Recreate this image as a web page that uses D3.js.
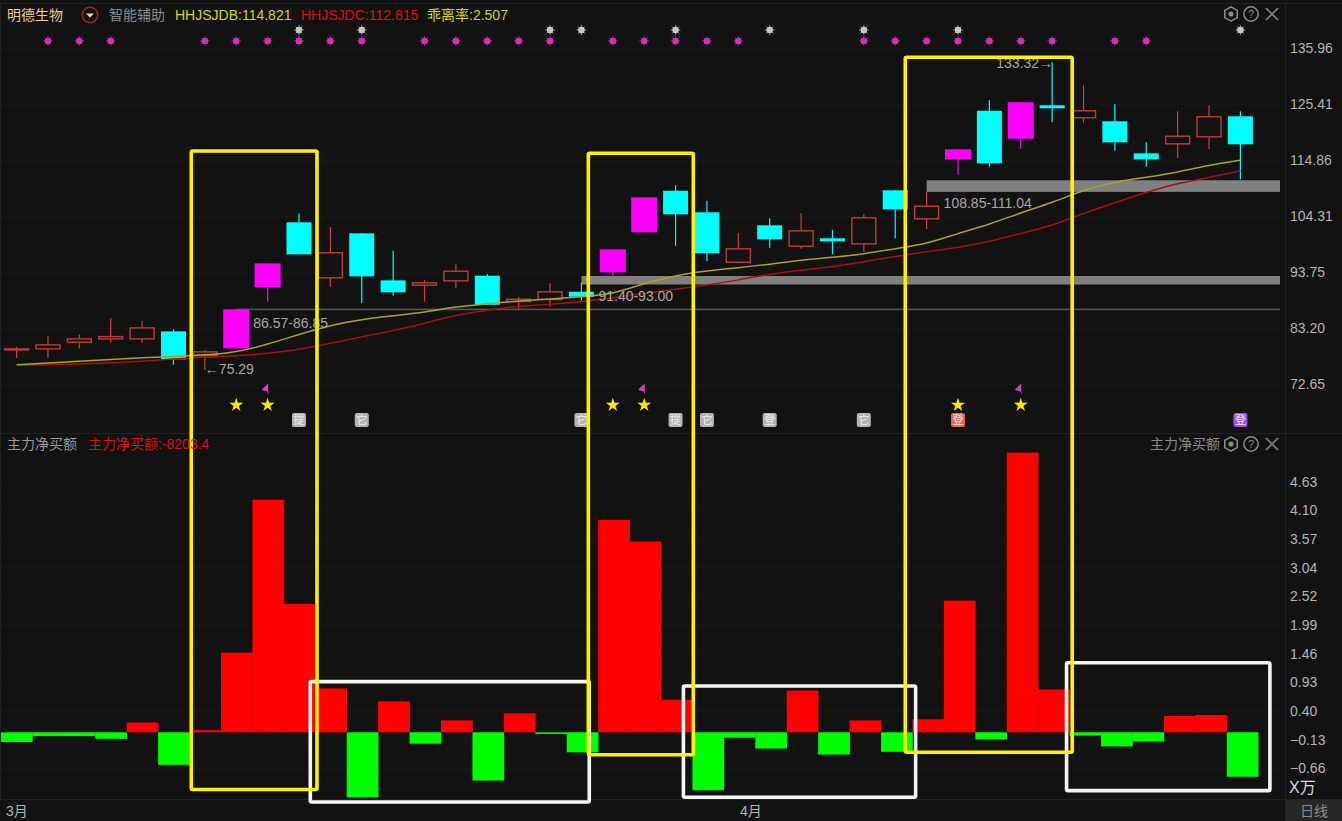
<!DOCTYPE html>
<html><head><meta charset="utf-8">
<script src="https://cdn.jsdelivr.net/npm/d3@7"></script>
<style>
html,body{margin:0;padding:0;background:#121212;overflow:hidden}
svg{display:block}
text{font-family:"Liberation Sans","Noto Sans CJK SC",sans-serif;font-size:14px}
</style></head><body>
<svg id="c" width="1342" height="821"></svg>
<script>
const dayIndex = d3.range(40);
const bodyHigh = [79.36,80.12,81.25,81.68,83.32,82.57,78.80,86.72,95.38,103.11,97.46,101.04,92.18,91.80,93.99,93.05,88.71,90.11,90.03,98.02,107.82,109.07,105.00,98.21,102.55,101.60,100.10,104.05,109.14,106.24,116.87,124.14,125.73,125.16,124.22,122.15,116.11,119.43,123.09,123.09];
const bodyLow = [79.18,79.18,80.42,81.06,81.06,77.29,77.91,79.36,90.86,97.08,92.56,92.93,89.92,91.16,91.99,87.58,88.09,88.47,89.09,93.69,101.23,104.62,97.27,95.50,99.91,98.51,99.53,98.96,105.56,103.68,114.98,114.23,118.87,124.60,122.71,118.19,114.98,117.81,119.13,117.81];
const highs = [79.67,81.68,82.00,85.02,84.51,82.95,79.04,86.72,95.38,104.81,102.17,101.04,97.76,92.24,95.20,93.37,89.09,91.62,91.73,98.02,107.82,110.08,107.18,101.15,103.87,104.81,101.66,104.62,109.14,108.88,116.87,126.10,125.73,133.32,128.93,125.35,118.19,124.03,125.16,124.03];
const lows = [77.54,77.54,79.36,80.42,80.42,76.27,75.29,79.36,88.15,97.08,90.97,87.85,89.28,88.15,90.67,87.58,86.83,87.21,88.34,92.99,101.23,98.70,95.82,95.50,98.32,98.14,97.08,97.57,100.10,101.79,112.08,113.59,116.98,121.96,121.88,116.61,113.59,115.17,116.87,111.22];
const kinds = ["u","u","u","u","u","d","u","m","m","d","u","d","d","u","u","d","u","u","d","m","m","d","d","u","d","u","d","u","d","u","m","d","m","d","u","d","d","u","u","d"];
const lineDB = [76.27,76.60,76.92,77.29,77.59,77.86,78.10,78.61,80.12,82.00,83.76,84.83,85.51,86.15,87.24,87.77,88.34,88.66,89.09,89.60,91.62,93.12,93.99,94.56,95.20,96.01,96.52,97.14,98.17,99.02,101.04,102.73,104.92,106.81,109.20,110.76,111.59,112.53,113.91,114.82];
const lineDC = [76.22,76.27,76.41,76.65,76.92,77.35,77.73,77.91,78.42,79.10,80.31,81.55,82.68,84.08,85.64,86.58,87.34,87.66,88.15,88.90,89.73,90.48,91.29,92.24,93.37,94.12,94.74,95.69,96.70,97.57,98.40,99.46,101.04,102.47,104.81,106.81,108.77,110.46,111.59,112.82];
const netBuy = [-0.18,-0.07,-0.07,-0.12,0.18,-0.60,0.04,1.47,4.29,2.37,0.81,-1.20,0.57,-0.21,0.22,-0.89,0.35,-0.03,-0.37,3.92,3.52,0.60,-1.07,-0.10,-0.30,0.77,-0.41,0.22,-0.36,0.24,2.43,-0.13,5.16,0.79,-0.06,-0.26,-0.17,0.30,0.32,-0.82];
const priceTicks = [135.96,125.41,114.86,104.31,93.75,83.20,72.65];
const netTicks = [4.63,4.10,3.57,3.04,2.52,1.99,1.46,0.93,0.40,-0.13,-0.66];
const pinkDots = [1,2,3,6,7,8,9,10,11,13,14,15,16,17,19,20,21,22,23,27,28,29,30,31,32,33,35,36];
const grayDots = [9,11,17,18,21,24,27,30,39];
const stars = [7,8,19,20,30,32];
const flags = [8,20,32];
const badgeDays = [9,11,18,21,22,24,27,30,39];
const badgeText = ["提","它","它","提","它","登","它","登","登"];
const badgeFill = ["#b4b4b4","#b4b4b4","#b4b4b4","#b4b4b4","#b4b4b4","#b4b4b4","#b4b4b4","#f06060","#a050e0"];
const zones = [[7,86.57,86.85],[18,91.40,93.00],[29,108.85,111.04]];
const zoneLabels = ["86.57-86.85","91.40-93.00","108.85-111.04"];
const yellowBoxes = [[5.567,9.573,116.55,-1.056],[18.22,21.565,116.12,-0.413],[28.32,33.64,134.21,-0.369]];
const whiteBoxes = [[9.36,18.25,0.935,-1.285],[21.25,28.65,0.853,-1.198],[33.46,39.94,1.283,-1.076]];
const pinkLevel = 137.28, grayLevel = 139.35, starLevel = 68.68, badgeLevel = 65.85, flagLevel = 72.65;

const svg = d3.select("#c");
const W=1342,H=821,plotR=1280,axisX=1285;
const x = d3.scaleBand().domain(dayIndex).range([0.9,0.9+31.38*40]);
const xN = d3.scaleBand().domain(dayIndex).range([1,1+31.43*40]);
const cx = i => x(0)+x.bandwidth()/2+i*x.bandwidth();
const yP = d3.scaleLinear().domain([135.96,72.65]).range([48,384]);
const yN = d3.scaleLinear().domain([0,4.63]).range([732.3,481.3]);
const bg="#121212";

svg.append("rect").attr("width",W).attr("height",H).attr("fill",bg);
// frame
const frame=svg.append("g").attr("stroke","#222").attr("stroke-width",1);
[[0,3.5,W,3.5],[0,433.5,W,433.5],[0,799.5,W,799.5],[axisX+.5,3,axisX+.5,821],[.5,3,.5,800]].forEach(l=>frame.append("line").attr("x1",l[0]).attr("y1",l[1]).attr("x2",l[2]).attr("y2",l[3]));
// grid
const grid=svg.append("g").attr("stroke","#262626").attr("stroke-dasharray","1 3");
priceTicks.forEach(t=>grid.append("line").attr("x1",2).attr("x2",plotR).attr("y1",Math.round(yP(t))+.5).attr("y2",Math.round(yP(t))+.5));
netTicks.forEach(t=>grid.append("line").attr("x1",2).attr("x2",plotR).attr("y1",Math.round(yN(t))+.5).attr("y2",Math.round(yN(t))+.5));

// axes
const axP=svg.append("g").attr("transform",`translate(${axisX},0)`).call(d3.axisRight(yP).tickValues(priceTicks).tickFormat(d3.format(".2f")).tickSize(0).tickPadding(5));
const axN=svg.append("g").attr("transform",`translate(${axisX},0.4)`).call(d3.axisRight(yN).tickValues(netTicks).tickFormat(d3.format(".2f")).tickSize(0).tickPadding(5));
[axP,axN].forEach(a=>{a.select(".domain").remove();a.selectAll("text").attr("fill","#b4b4b4").style("font-size","14px").style("font-family",'"Liberation Sans",sans-serif');});

// zones
svg.append("g").selectAll("rect").data(zones).join("rect")
 .attr("x",d=>cx(d[0])).attr("width",d=>plotR-cx(d[0]))
 .attr("y",d=>yP(d[2])).attr("height",d=>Math.max(1.6,yP(d[1])-yP(d[2])))
 .attr("fill",(d,i)=>i==0?"#555":"#808080");

// candles
const colors={u:"#c23b3b",d:"#00ffff",m:"#ff00ff"};
const cg=svg.append("g");
dayIndex.forEach(i=>{
  const k=kinds[i],c=cx(i),hw=k==="m"?13:12.5;
  const g=cg.append("g");
  const col=k==="u"?"#d04040":colors[k];
  g.append("line").attr("x1",c).attr("x2",c).attr("y1",yP(highs[i])).attr("y2",yP(lows[i])).attr("stroke",col).attr("stroke-width",1.2);
  const t=yP(bodyHigh[i]),b=yP(bodyLow[i]);
  if(k==="u") g.append("rect").attr("x",c-hw+.5).attr("width",2*hw-1).attr("y",t+.5).attr("height",Math.max(b-t-1,1)).attr("fill",bg).attr("stroke",colors.u).attr("stroke-width",1.4);
  else g.append("rect").attr("x",c-hw).attr("width",2*hw).attr("y",t).attr("height",b-t).attr("fill",colors[k]);
});

// moving lines
const ln=d3.line().x((d,i)=>cx(i)).y(d=>yP(d)).curve(d3.curveBasis);
svg.append("path").attr("d",ln(lineDC)).attr("fill","none").attr("stroke","#a80f0f").attr("stroke-width",1.5);
svg.append("path").attr("d",ln(lineDB)).attr("fill","none").attr("stroke","#aaa420").attr("stroke-width",1.5);

// zone labels
const labelStyle=s=>s.attr("fill","#a8a8a8").style("font-size","14px");
zones.forEach((z,n)=>{
  svg.append("text").attr("x",cx(z[0])+17).attr("y",yP(z[1])+[18,17,16.5][n]).text(zoneLabels[n]).call(labelStyle);
});
svg.append("text").attr("x",cx(6)).attr("y",yP(75.29)+4.5).text("←75.29").call(labelStyle);
svg.append("text").attr("x",cx(33)+1).attr("y",yP(133.32)+6).attr("text-anchor","end").text("133.32→").call(labelStyle);

// net buy bars
svg.append("g").selectAll("rect").data(netBuy).join("rect")
 .attr("x",(d,i)=>xN(i)).attr("width",xN.bandwidth()+.3)
 .attr("y",d=>d>=0?yN(d):yN(0)).attr("height",d=>Math.abs(yN(d)-yN(0)))
 .attr("fill",d=>d>=0?"#ff0000":"#00ff00");

// sparkle dots
const defs=svg.append("defs");
defs.append("filter").attr("id","soft").append("feGaussianBlur").attr("stdDeviation",.6);
const dot=(list,level,col)=>{const yy=yP(level);const g=svg.append("g").attr("filter","url(#soft)");
 list.forEach(i=>{
  const s=g.append("g").attr("transform",`translate(${cx(i)},${yy})`);
  s.append("circle").attr("r",3.2).attr("fill",col);
  d3.range(4).forEach(k=>s.append("line").attr("x1",0).attr("y1",-4.8).attr("x2",0).attr("y2",4.8).attr("transform",`rotate(${k*45})`).attr("stroke",col).attr("stroke-width",.8));
 });};
dot(pinkDots,pinkLevel,"#d62fb4");
dot(grayDots,grayLevel,"#c8c8c8");
// stars
svg.append("g").selectAll("path").data(stars).join("path")
 .attr("transform",i=>`translate(${cx(i)},${yP(starLevel)})`).attr("d",d3.symbol(d3.symbolStar,60)()).attr("fill","#ffe600");
// flags
svg.append("g").selectAll("path").data(flags).join("path")
 .attr("transform",i=>`translate(${cx(i)},${yP(flagLevel)})`).attr("d","M0.5,0 L-5.5,5.5 L0.5,7.5 L0.5,10").attr("fill","#d040d0").attr("stroke","#d040d0").attr("stroke-width",.8);
// badges
const bg2=svg.append("g");
badgeDays.forEach((i,n)=>{
 const yy=yP(badgeLevel);
 bg2.append("rect").attr("x",cx(i)-7).attr("y",yy-7).attr("width",14).attr("height",14).attr("rx",2).attr("fill",badgeFill[n]);
 bg2.append("text").attr("x",cx(i)).attr("y",yy+4).attr("text-anchor","middle").attr("fill","#eeeeee").style("font-size","11px").text(badgeText[n]);
});

// boxes
const box=(b,col,sameNet)=>{
 const x0=cx(b[0]),x1=cx(b[1]),y0=sameNet?yN(b[2]):yP(b[2]),y1=yN(b[3]);
 svg.append("rect").attr("x",x0).attr("y",y0).attr("width",x1-x0).attr("height",y1-y0).attr("rx",1.5).attr("fill","none").attr("stroke",col).attr("stroke-width",3.6);
};
whiteBoxes.forEach(b=>box(b,"#f4f4f4",true));
yellowBoxes.forEach(b=>box(b,"#fff000",false));

// header
const T=(xx,yy,s,col,sz)=>svg.append("text").attr("x",xx).attr("y",yy).attr("fill",col).style("font-size",(sz||14)+"px").text(s);
T(7,20,"明德生物","#e8cf8e");
svg.append("circle").attr("cx",90).attr("cy",15).attr("r",7.7).attr("fill","none").attr("stroke","#a82020").attr("stroke-width",1.5);
svg.append("path").attr("d","M86,13.5 L94,13.5 L90,17.5Z").attr("fill","#ddd");
T(109,20,"智能辅助","#8a8a8a");
T(175,20,"HHJSJDB:114.821","#d4d414");
T(301,20,"HHJSJDC:112.815","#d81010");
T(427,20,"乖离率:2.507","#d4d414");
T(7,449,"主力净买额","#9a9a9a");
T(88,449,"主力净买额:-8203.4","#d81010");
T(1150,449,"主力净买额","#8a8a8a");
// window icons
const icons=(yy)=>{
 const g=svg.append("g").attr("fill","none").attr("stroke","#8c8c8c").attr("stroke-width",1.5);
 const hex=d3.range(6).map(k=>[1231+7.2*Math.sin(k*Math.PI/3),yy+7.2*Math.cos(k*Math.PI/3)]);
 g.append("path").attr("d",d3.line()(hex)+"Z");
 g.append("circle").attr("cx",1231).attr("cy",yy).attr("r",1.8).attr("fill","#8c8c8c");
 g.append("circle").attr("cx",1251).attr("cy",yy).attr("r",7.2);
 svg.append("text").attr("x",1251).attr("y",yy+4).attr("text-anchor","middle").attr("fill","#8c8c8c").style("font-size","11px").text("?");
 g.append("path").attr("d",`M1266,${yy-6} L1278,${yy+6} M1278,${yy-6} L1266,${yy+6}`);
};
icons(14);icons(444);
// bottom
T(6,816,"3月","#b4b4b4");
T(740,816,"4月","#b4b4b4");
T(1289,793,"X万","#d8d8d8",16);
svg.append("rect").attr("x",axisX+1).attr("y",800).attr("width",W-axisX-1).attr("height",21).attr("fill","#262626");
T(1300,816,"日线","#8a8a8a");
</script></body></html>
